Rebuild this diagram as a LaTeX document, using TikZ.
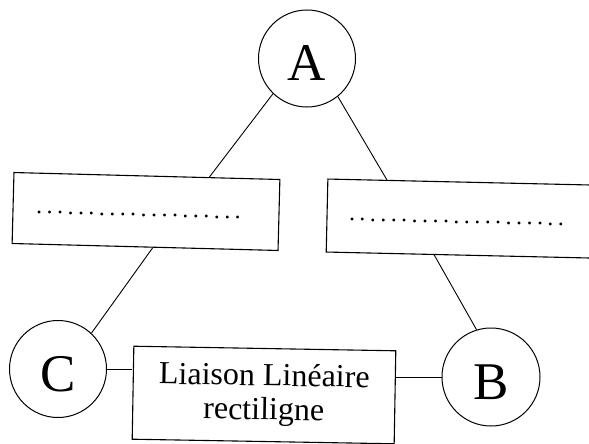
\documentclass[tikz,border=0pt]{standalone}
\usepackage{fontspec}
\setmainfont{Liberation Serif}
\newcommand\dotseq[1]{\foreach \k in {1,...,#1}{\makebox[10.45pt]{.}}}
\begin{document}
\begin{tikzpicture}[x=1pt,y=-1pt,
  letter/.style={circle,draw,line width=1pt,minimum size=97pt,inner sep=0pt,
    font=\fontsize{53}{53}\selectfont,text height=45pt,text depth=0pt},
  blank/.style={draw,line width=1.1pt,inner sep=0pt},
  dotrow/.style={inner sep=0pt,font=\fontsize{24}{24}\selectfont},
  link/.style={line width=0.9pt}]
\useasboundingbox (0,0) rectangle (589,444);
\node[letter] (A) at (307,58.5) {A};
\node[letter] (C) at (58,369) {C};
\node[letter,minimum size=98pt] (B) at (491,377) {B};
\node[blank,minimum width=266pt,minimum height=71pt,rotate=-1.5] (L) at (146,211.5) {};
\node[blank,minimum width=270pt,minimum height=73pt,rotate=-1.3] (R) at (462,218.6) {};
\node[dotrow,rotate=-1.5] (Ld) at (138.5,215) {\dotseq{20}};
\node[dotrow,rotate=-1.3] (Rd) at (456.5,222) {\dotseq{21}};
\node[blank,minimum width=262pt,minimum height=93pt,rotate=-1,align=center,
  font=\fontsize{32}{34}\selectfont] (M) at (264,395) {Liaison Linéaire\\rectiligne};
\draw[link] (A.226) -- (L.30);
\draw[link] (A.309) -- (R.154);
\draw[link] (L.282) -- (C.47);
\draw[link] (R.234) -- (B.107);
\draw[link] (C.east) -- (C.east -| M.west);
\draw[link] (B.west) -- (B.west -| M.east);
\end{tikzpicture}
\end{document}
